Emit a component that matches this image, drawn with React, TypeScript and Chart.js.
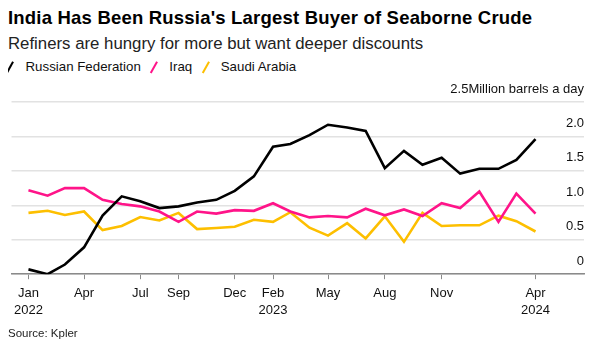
import React, { useEffect, useRef } from 'react';
import { Chart, registerables } from 'chart.js';

Chart.register(...registerables);

const months = [
  '2022-01', '2022-02', '2022-03', '2022-04', '2022-05', '2022-06', '2022-07', '2022-08', '2022-09', '2022-10', '2022-11', '2022-12',
  '2023-01', '2023-02', '2023-03', '2023-04', '2023-05', '2023-06', '2023-07', '2023-08', '2023-09', '2023-10', '2023-11', '2023-12',
  '2024-01', '2024-02', '2024-03', '2024-04',
];
const russia = [
  0.07, 0.0, 0.14, 0.39, 0.85, 1.13, 1.06, 0.96, 0.985, 1.04, 1.08, 1.21,
  1.42, 1.85, 1.89, 2.02, 2.17, 2.13, 2.08, 1.54, 1.79, 1.59, 1.69, 1.46,
  1.53, 1.53, 1.66, 1.96,
];
const iraq = [
  1.22, 1.14, 1.25, 1.25, 1.08, 1.02, 0.985, 0.91, 0.76, 0.91, 0.88, 0.93,
  0.92, 1.03, 0.91, 0.825, 0.845, 0.825, 0.95, 0.855, 0.94, 0.845, 1.03, 0.96,
  1.2, 0.76, 1.17, 0.88,
];
const saudi = [
  0.89, 0.92, 0.86, 0.91, 0.64, 0.7, 0.83, 0.78, 0.89, 0.655, 0.67, 0.69,
  0.79, 0.76, 0.9, 0.675, 0.56, 0.74, 0.52, 0.84, 0.47, 0.89, 0.7, 0.71,
  0.71, 0.85, 0.77, 0.62,
];
const xTickMonths = ['2022-01', '2022-04', '2022-07', '2022-09', '2022-12', '2023-02', '2023-05', '2023-08', '2023-11', '2024-04'];
const xTickLabels = [['Jan', '2022'], ['Apr'], ['Jul'], ['Sep'], ['Dec'], ['Feb', '2023'], ['May'], ['Aug'], ['Nov'], ['Apr', '2024']];
const yTicks = [0, 0.5, 1, 1.5, 2, 2.5];
const yTickLabels = ['0', '0.5', '1.0', '1.5', '2.0', '2.5Million barrels a day'];

const seriesNames = ['Russian Federation', 'Iraq', 'Saudi Arabia'];
const seriesColors = ['#000000', '#ff1489', '#fdbf00'];

const DAY = 86400000;
const toMs = (m: string) => Date.UTC(Number(m.slice(0, 4)), Number(m.slice(5, 7)) - 1, 1);

const FONT = '"Liberation Sans", Arial, Helvetica, sans-serif';

export default function App() {
  const ref = useRef<HTMLCanvasElement | null>(null);

  useEffect(() => {
    if (!ref.current) return;
    const xs = months.map(toMs);
    const mk = (vals: number[]) => vals.map((v, i) => ({ x: xs[i], y: v }));
    const chart = new Chart(ref.current, {
      type: 'line',
      data: {
        datasets: [russia, iraq, saudi].map((vals, i) => ({
          label: seriesNames[i],
          data: mk(vals),
          borderColor: seriesColors[i],
          backgroundColor: seriesColors[i],
          borderWidth: 2.6,
          pointRadius: 0,
          tension: 0,
          borderJoinStyle: 'miter' as const,
        })),
      },
      options: {
        animation: false,
        responsive: false,
        maintainAspectRatio: false,
        layout: { padding: { top: 24, right: 5, bottom: 3, left: 0 } },
        plugins: { legend: { display: false }, tooltip: { enabled: false }, title: { display: false } },
        scales: {
          x: {
            type: 'linear',
            min: toMs('2022-01') - 27.4 * DAY,
            max: toMs('2024-04') + 78.5 * DAY,
            afterBuildTicks: (scale: any) => {
              scale.ticks = xTickMonths.map((m) => ({ value: toMs(m) }));
            },
            ticks: {
              autoSkip: false,
              maxRotation: 0,
              padding: 6,
              color: '#111',
              font: { family: FONT, size: 13, lineHeight: 1.3 },
              callback: (_v: any, i: number) => xTickLabels[i],
            },
            grid: { drawOnChartArea: false, drawTicks: true, tickLength: 5, color: '#8a8a8a', lineWidth: 1 },
            border: { display: true, color: '#8a8a8a', width: 1.5 },
          },
          y: {
            position: 'right',
            min: 0,
            max: 2.5,
            afterBuildTicks: (scale: any) => {
              scale.ticks = yTicks.map((v) => ({ value: v }));
            },
            ticks: {
              mirror: true,
              padding: 0,
              labelOffset: -13,
              color: '#111',
              font: { family: FONT, size: 13 },
              callback: (_v: any, i: number) => yTickLabels[i],
            },
            grid: { color: '#e2e2e2', lineWidth: 1.5, drawTicks: false },
            border: { display: false },
          },
        },
      },
    });
    return () => chart.destroy();
  }, []);

  const slash = (c: string) => (
    <span style={{ display: 'inline-block', width: 5, height: 13, position: 'relative', marginRight: 12.5, verticalAlign: 'middle' }}>
      <span style={{ position: 'absolute', left: 1.4, top: 0, width: 2.2, height: 12.5, background: c, transform: 'rotate(29deg)' }} />
    </span>
  );

  return (
    <div style={{ width: 581, fontFamily: FONT, color: '#111' }}>
      <div style={{ fontSize: 18.5, fontWeight: 700, lineHeight: '20px', height: 26, color: '#000', letterSpacing: 0.2, whiteSpace: 'nowrap' }}>
        India Has Been Russia's Largest Buyer of Seaborne Crude
      </div>
      <div style={{ fontSize: 16.8, lineHeight: '20px', height: 25, color: '#222', whiteSpace: 'nowrap' }}>
        Refiners are hungry for more but want deeper discounts
      </div>
      <div style={{ fontSize: 13.3, lineHeight: '16px', height: 19, display: 'flex', alignItems: 'flex-start' }}>
        {seriesNames.map((n, i) => (
          <span key={n} style={{ display: 'inline-flex', alignItems: 'center', marginRight: 11 }}>
            {slash(seriesColors[i])}
            {n}
          </span>
        ))}
      </div>
      <canvas ref={ref} width={581} height={250} style={{ display: 'block', width: 581, height: 250 }} />
      <div style={{ fontSize: 11.5, lineHeight: '14px', color: '#222', marginTop: -2 }}>Source: Kpler</div>
    </div>
  );
}
